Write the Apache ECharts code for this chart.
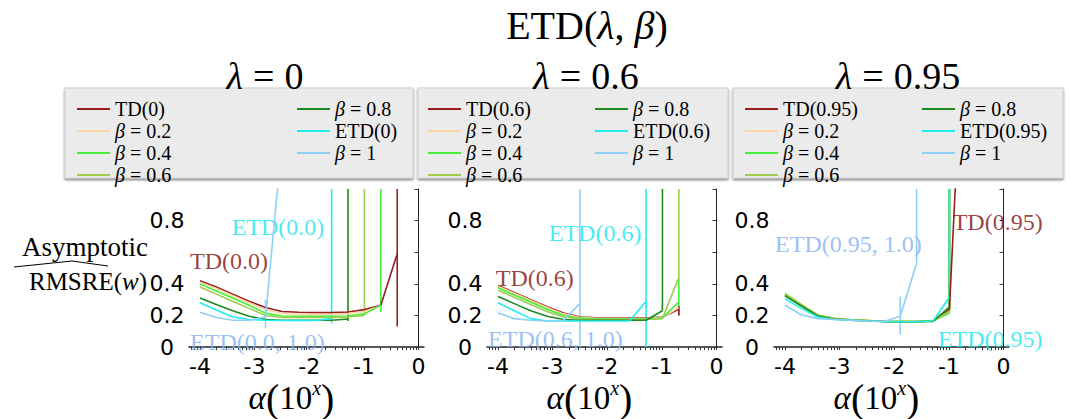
<!DOCTYPE html>
<html>
<head>
<meta charset="utf-8">
<script src="https://cdn.jsdelivr.net/npm/echarts@6/dist/echarts.min.js"></script>
<style>
  html, body { margin: 0; padding: 0; background: #fff; }
  #chart { width: 1070px; height: 419px; }
</style>
</head>
<body>
<div id="chart"></div>
<script>
// log10 of step size alpha, shared by all three panels
const xPoints = [-4, -3.7, -3.4, -3.1, -2.8, -2.5, -2.19, -1.89, -1.59, -1.29, -0.99, -0.69, -0.39]
const xLabels = [-4, -3, -2, -1, 0]

// lambda = 0
const td0 = [0.42, 0.38, 0.335, 0.29, 0.25, 0.225, 0.22, 0.218, 0.218, 0.222, 0.237, 0.265, 0.59]
const b02_0 = [0.41, 0.37, 0.325, 0.28, 0.237, 0.213, 0.208, 0.207, 0.207, 0.212, 0.225, 0.262]
const b04_0 = [0.4, 0.355, 0.31, 0.265, 0.215, 0.197, 0.195, 0.195, 0.195, 0.197, 0.21, 0.265]
const b06_0 = [0.38, 0.335, 0.29, 0.245, 0.2, 0.187, 0.187, 0.187, 0.187, 0.19, 0.2]
const b08_0 = [0.31, 0.27, 0.23, 0.195, 0.175, 0.17, 0.17, 0.17, 0.17, 0.178]
const etd0 = [0.28, 0.235, 0.19, 0.175, 0.17, 0.168, 0.168, 0.168, 0.18]
const b1_0 = [0.22, 0.187, 0.17, 0.17, 0.19, 1.3]
// error bars: [series, x index, low, high]
const errs0 = [['b1', 4, 0.12, 0.3], ['etd', 8, 0.15, 1.5], ['b08', 9, 0.165, 1.5], ['b06', 10, 0.2, 1.5], ['b04', 11, 0.22, 1.5], ['td', 12, 0.13, 1.5]]

// lambda = 0.6
const td6 = [0.39, 0.345, 0.3, 0.255, 0.215, 0.19, 0.185, 0.183, 0.183, 0.183, 0.19, 0.24]
const b02_6 = [0.385, 0.34, 0.295, 0.25, 0.21, 0.187, 0.182, 0.18, 0.18, 0.18, 0.188, 0.25]
const b04_6 = [0.376, 0.33, 0.285, 0.24, 0.2, 0.183, 0.178, 0.177, 0.177, 0.177, 0.185, 0.285]
const b06_6 = [0.36, 0.315, 0.27, 0.225, 0.19, 0.178, 0.175, 0.175, 0.175, 0.175, 0.18, 0.44]
const b08_6 = [0.32, 0.275, 0.23, 0.195, 0.175, 0.17, 0.17, 0.17, 0.17, 0.17, 0.23]
const etd6 = [0.28, 0.23, 0.18, 0.165, 0.165, 0.165, 0.165, 0.165, 0.165, 0.29]
const b1_6 = [0.216, 0.18, 0.17, 0.165, 0.17, 0.275]
const errs6 = [['b1', 5, 0, 1.5], ['etd', 9, 0, 1.5], ['b08', 10, 0.23, 1.5], ['b04', 11, 0.2, 0.44], ['b06', 11, 0.44, 1.5], ['td', 11, 0.2, 0.26]]

// lambda = 0.95
const td95 = [0.33, 0.265, 0.2, 0.18, 0.172, 0.168, 0.163, 0.162, 0.162, 0.165, 0.24, 2.4]
const b02_95 = [0.33, 0.265, 0.2, 0.18, 0.172, 0.168, 0.163, 0.162, 0.162, 0.165, 0.22]
const b04_95 = [0.335, 0.268, 0.2, 0.18, 0.172, 0.168, 0.163, 0.162, 0.162, 0.165, 0.215]
const b06_95 = [0.34, 0.27, 0.205, 0.182, 0.173, 0.168, 0.163, 0.162, 0.162, 0.165, 0.225]
const b08_95 = [0.325, 0.26, 0.197, 0.178, 0.17, 0.166, 0.162, 0.16, 0.16, 0.163, 0.255]
const etd95 = [0.305, 0.245, 0.19, 0.175, 0.17, 0.165, 0.162, 0.16, 0.16, 0.165, 0.315]
const b1_95 = [0.265, 0.205, 0.18, 0.175, 0.17, 0.165, 0.162, 0.195, 0.53]
const errs95 = [['b1', 7, 0.08, 0.32], ['b1', 8, 0.53, 1.5], ['b02', 10, 0.22, 1.5], ['b04', 10, 0.215, 1.5], ['b06', 10, 0.225, 1.5], ['b08', 10, 0.255, 1.5], ['etd', 10, 0.315, 1.5]]

// in-plot labels: [text, series colour, x, y]
const notes0 = [['ETD(0.0)', 'etd', -3.42, 0.76], ['TD(0.0)', 'td', -4.18, 0.545], ['ETD(0.0, 1.0)', 'b1', -4.18, 0.035]]
const notes6 = [['ETD(0.6)', 'etd', -3.07, 0.72], ['TD(0.6)', 'td', -4.04, 0.44], ['ETD(0.6, 1.0)', 'b1', -4.18, 0.05]]
const notes95 = [['TD(0.95)', 'td', -0.93, 0.79], ['ETD(0.95, 1.0)', 'b1', -4.18, 0.65], ['ETD(0.95)', 'etd', -1.2, 0.05]]

const lambdas = ['0', '0.6', '0.95']

const colors = {
  td: '#9b1c1c', b02: '#fdd6a4', b04: '#44ee3a', b06: '#9fcb4e',
  b08: '#1e8a1e', etd: '#1eeeee', b1: '#8fd0f6',
}
const noteColors = { td: '#7d1010', etd: '#14e6ee', b1: '#82b0f2' }

const panels = [
  { td: td0, b02: b02_0, b04: b04_0, b06: b06_0, b08: b08_0, etd: etd0, b1: b1_0, errs: errs0, notes: notes0 },
  { td: td6, b02: b02_6, b04: b04_6, b06: b06_6, b08: b08_6, etd: etd6, b1: b1_6, errs: errs6, notes: notes6 },
  { td: td95, b02: b02_95, b04: b04_95, b06: b06_95, b08: b08_95, etd: etd95, b1: b1_95, errs: errs95, notes: notes95 },
]

const SERIF = '"Liberation Serif", "Times New Roman", serif'
const SANS = '"DejaVu Sans", sans-serif'

const gridLefts = [189, 487, 774]
const boxes = [[65, 88, 348, 90], [418, 88, 310, 90], [733, 88, 330, 90]]
const legendLefts = [[72, 292], [423, 590], [740, 917]]
const titleCenters = [260, 581, 893]

function seriesName(key, lam) {
  if (key === 'td') return `TD(${lam})`
  if (key === 'etd') return `ETD(${lam})`
  return { b02: 'β = 0.2', b04: 'β = 0.4', b06: 'β = 0.6', b08: 'β = 0.8', b1: 'β = 1' }[key]
}

const minorTicks = []
for (let d = -5; d <= 0; d++) {
  for (let k = 1; k <= 9; k++) {
    const v = d + Math.log10(k)
    if (v >= -4.2 && v <= 0.1) minorTicks.push(v)
  }
}

const grid = [], xAxis = [], yAxis = [], series = [], legend = [], title = []
const keys = ['td', 'b02', 'b04', 'b06', 'b08', 'etd', 'b1']

const legendText = {
  fontFamily: SERIF, fontSize: 20, color: '#000',
  rich: {
    r: { fontFamily: SERIF, fontSize: 20, color: '#000' },
    i: { fontFamily: SERIF, fontSize: 20, fontStyle: 'italic', color: '#000' },
  },
}

panels.forEach((p, gi) => {
  const lam = lambdas[gi]
  grid.push({ left: gridLefts[gi], top: 189, width: 235, height: 168 })
  xAxis.push({
    type: 'value', gridIndex: gi, min: -4.2, max: 0.1,
    axisLine: { show: true, onZero: false, lineStyle: { color: '#222', width: 1.5 } },
    axisTick: { show: true, length: 3, customValues: minorTicks, lineStyle: { color: '#333' } },
    axisLabel: { customValues: xLabels, margin: 8, color: '#000', fontFamily: SANS, fontSize: 22 },
    splitLine: { show: false },
    name: '{a|α}{p|(}{n|10}{s|x}{p|)}', nameLocation: 'middle', nameGap: 20,
    nameTextStyle: {
      padding: [0, 30, 0, 0],
      rich: {
        a: { fontFamily: SERIF, fontStyle: 'italic', fontSize: 33, color: '#000' },
        p: { fontFamily: SERIF, fontSize: 40, color: '#000' },
        n: { fontFamily: SERIF, fontSize: 33, color: '#000' },
        s: { fontFamily: SERIF, fontStyle: 'italic', fontSize: 20, color: '#000', verticalAlign: 'top' },
      },
    },
  })
  yAxis.push({
    type: 'value', gridIndex: gi, min: 0, max: 1, interval: 0.2,
    axisLine: { show: true, lineStyle: { color: '#222', width: 1 } },
    axisTick: { show: true, length: 4, lineStyle: { color: '#333' } },
    axisLabel: {
      align: 'center', margin: 22, color: '#000', fontFamily: SANS, fontSize: 22,
      formatter: (v) => (v === 0 ? '0' : (Math.abs(v - 0.6) < 1e-6 || v === 1 ? '' : v.toFixed(1))),
    },
    splitLine: { show: false },
  })

  keys.forEach((key) => {
    series.push({
      type: 'line', name: seriesName(key, lam), xAxisIndex: gi, yAxisIndex: gi,
      data: p[key].map((v, i) => [xPoints[i], v]),
      symbol: 'none', color: colors[key], clip: true, animation: false,
      lineStyle: { width: 1.6, color: colors[key] },
    })
  })

  series.push({
    type: 'custom', xAxisIndex: gi, yAxisIndex: gi, clip: true, animation: false,
    data: p.errs.map(([key, i, lo, hi]) => ({ value: [xPoints[i], lo, hi], itemStyle: { color: colors[key] } })),
    renderItem: (params, api) => {
      const x = api.value(0)
      const a = api.coord([x, Math.max(api.value(1), 0)])
      const b = api.coord([x, Math.min(api.value(2), 1)])
      return {
        type: 'line',
        shape: { x1: a[0], y1: a[1], x2: b[0], y2: b[1] },
        style: { stroke: api.visual('color'), lineWidth: 1.6 },
      }
    },
  })

  series.push({
    type: 'scatter', xAxisIndex: gi, yAxisIndex: gi, symbolSize: 0, animation: false, silent: true,
    data: p.notes.map(([text, key, x, y]) => ({
      name: text, value: [x, y],
      label: { color: noteColors[key] },
    })),
    label: {
      show: true, position: 'right', distance: 0, formatter: (d) => d.name,
      fontFamily: SERIF, fontSize: 24,
    },
  })

  const names = keys.map((k) => seriesName(k, lam))
  const base = {
    orient: 'vertical', top: 94, icon: 'rect', itemWidth: 33, itemHeight: 2, itemGap: 2,
    textStyle: legendText, selectedMode: false,
    formatter: (n) => (n.startsWith('β') ? n.replace('β', '{i|β}{r|') + '}' : `{r|${n}}`),
  }
  legend.push({ ...base, left: legendLefts[gi][0], data: names.slice(0, 4) })
  legend.push({ ...base, left: legendLefts[gi][1], data: names.slice(4) })

  title.push({
    text: `{i|λ}{e|=}{r|${lam}}`, left: titleCenters[gi], top: 52, textAlign: 'center',
    textStyle: {
      fontFamily: SERIF, fontSize: 38, fontWeight: 'normal', color: '#000',
      rich: {
        i: { fontFamily: SERIF, fontSize: 38, fontStyle: 'italic', color: '#000' },
        e: { fontFamily: SERIF, fontSize: 38, color: '#000', padding: [0, 10, 0, 10] },
        r: { fontFamily: SERIF, fontSize: 38, color: '#000' },
      },
    },
  })
})

title.push({
  text: '{r|ETD(}{i|λ}{r|, }{i|β}{r|)}', left: 582, top: 0, textAlign: 'center',
  textStyle: {
    fontFamily: SERIF, fontSize: 40, fontWeight: 'normal', color: '#000',
    rich: {
      r: { fontFamily: SERIF, fontSize: 40, color: '#000' },
      i: { fontFamily: SERIF, fontSize: 40, fontStyle: 'italic', color: '#000' },
    },
  },
})

const graphic = boxes.map(([x, y, w, h]) => ({
  type: 'rect', z: -1, shape: { x, y, width: w, height: h },
  style: { fill: '#ebebeb', stroke: '#cfcfcf', lineWidth: 1, shadowBlur: 2, shadowOffsetY: 1.5, shadowColor: 'rgba(0,0,0,0.55)' },
}))
graphic.push(
  { type: 'text', x: 85, y: 247, style: { text: 'Asymptotic', font: `27px ${SERIF}`, fill: '#000', textAlign: 'center', textVerticalAlign: 'middle' } },
  {
    type: 'text', x: 88, y: 281,
    style: {
      text: '{r|RMSRE(}{i|w}{r|)}', fill: '#000', textAlign: 'center', textVerticalAlign: 'middle',
      rich: {
        r: { fontFamily: SERIF, fontSize: 25, fill: '#000' },
        i: { fontFamily: SERIF, fontSize: 25, fontStyle: 'italic', fill: '#000' },
      },
    },
  },
  { type: 'polyline', shape: { points: [[14, 267], [72, 261], [108, 266]] }, style: { stroke: '#000', lineWidth: 1, fill: null } },
)

const chart = echarts.init(document.getElementById('chart'), null, { renderer: 'svg' })
chart.setOption({
  animation: false,
  backgroundColor: '#fff',
  title, grid, xAxis, yAxis, legend, series, graphic,
})
</script>
</body>
</html>
